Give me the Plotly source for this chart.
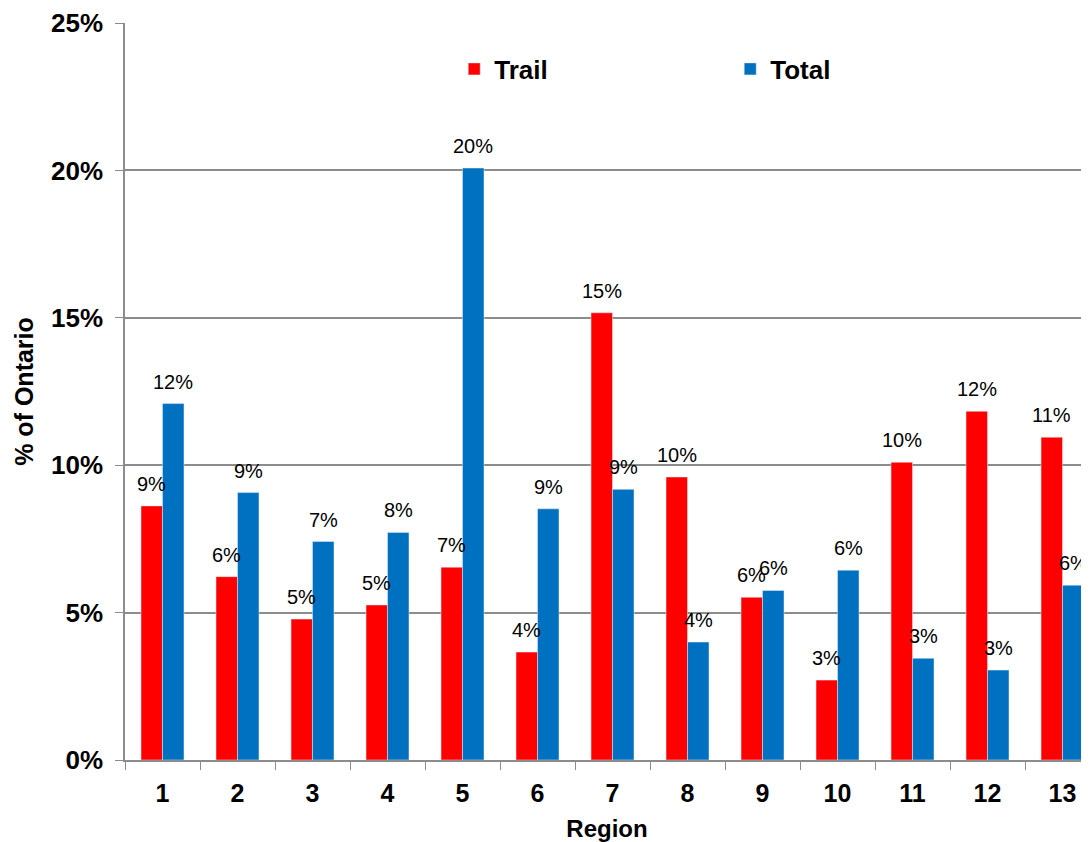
import plotly.graph_objects as go

# Region share of Ontario
regions = ["1", "2", "3", "4", "5", "6", "7", "8", "9", "10", "11", "12", "13"]
trail = [0.0862, 0.0622, 0.0478, 0.0526, 0.0654, 0.0366, 0.1517, 0.0960, 0.0552, 0.0271, 0.1010, 0.1183, 0.1095]
total = [0.1209, 0.0907, 0.0741, 0.0772, 0.2008, 0.0852, 0.0918, 0.0400, 0.0575, 0.0644, 0.0345, 0.0305, 0.0593]
y_ticks = [0, 0.05, 0.10, 0.15, 0.20, 0.25]

FONT = "Liberation Sans, Arial, sans-serif"
GRID = "#8c8c8c"

fig = go.Figure()
fig.add_trace(go.Bar(x=regions, y=trail, name="Trail", marker_color="#ff0000"))
fig.add_trace(go.Bar(x=regions, y=total, name="Total", marker_color="#0070c0"))

# data labels sit a little above each bar, like the Excel original
# (x given as category index so "1".."13" are not read as numbers)
for vals, shift in [(trail, -10.75), (total, 10.75)]:
    for i, v in enumerate(vals):
        fig.add_annotation(x=i, y=v, text=f"{v:.0%}", showarrow=False,
                           xshift=shift, yshift=9, yanchor="bottom",
                           font=dict(family=FONT, size=20, color="black"))

# page body has an 8px margin, so the figure is a bit smaller than the window
fig.update_layout(
    width=1081, height=834,
    margin={"l": 117, "r": 0, "t": 15, "b": 82},
    paper_bgcolor="white", plot_bgcolor="white",
    barmode="group", bargap=0.427, bargroupgap=0,
    font=dict(family=FONT, color="black"),
    legend=dict(orientation="h", x=0.3415, y=0.9376, xanchor="left", yanchor="middle",
                font=dict(size=26, weight="bold"), entrywidth=231,
                bgcolor="rgba(0,0,0,0)"),
    showlegend=True,
)
fig.update_xaxes(
    type="category", range=[-0.5, 12.353],
    showline=True, linecolor=GRID, linewidth=1.5,
    ticks="outside", tickson="boundaries", ticklen=8, tickcolor=GRID,
    tickfont=dict(size=25, weight="bold"), ticklabelstandoff=10,
    title=dict(text="Region", font=dict(size=24, weight="bold"), standoff=18),
)
fig.update_yaxes(
    range=[0, 0.25], tickvals=y_ticks, tickformat=".0%",
    showline=True, linecolor=GRID, linewidth=1.5,
    showgrid=True, gridcolor=GRID, gridwidth=1.5, zeroline=False,
    ticks="outside", ticklen=8, tickcolor=GRID,
    tickfont=dict(size=26, weight="bold"), ticklabelstandoff=7,
    title=dict(text="% of Ontario", font=dict(size=25, weight="bold"), standoff=10),
)

fig.write_html("out.html")
